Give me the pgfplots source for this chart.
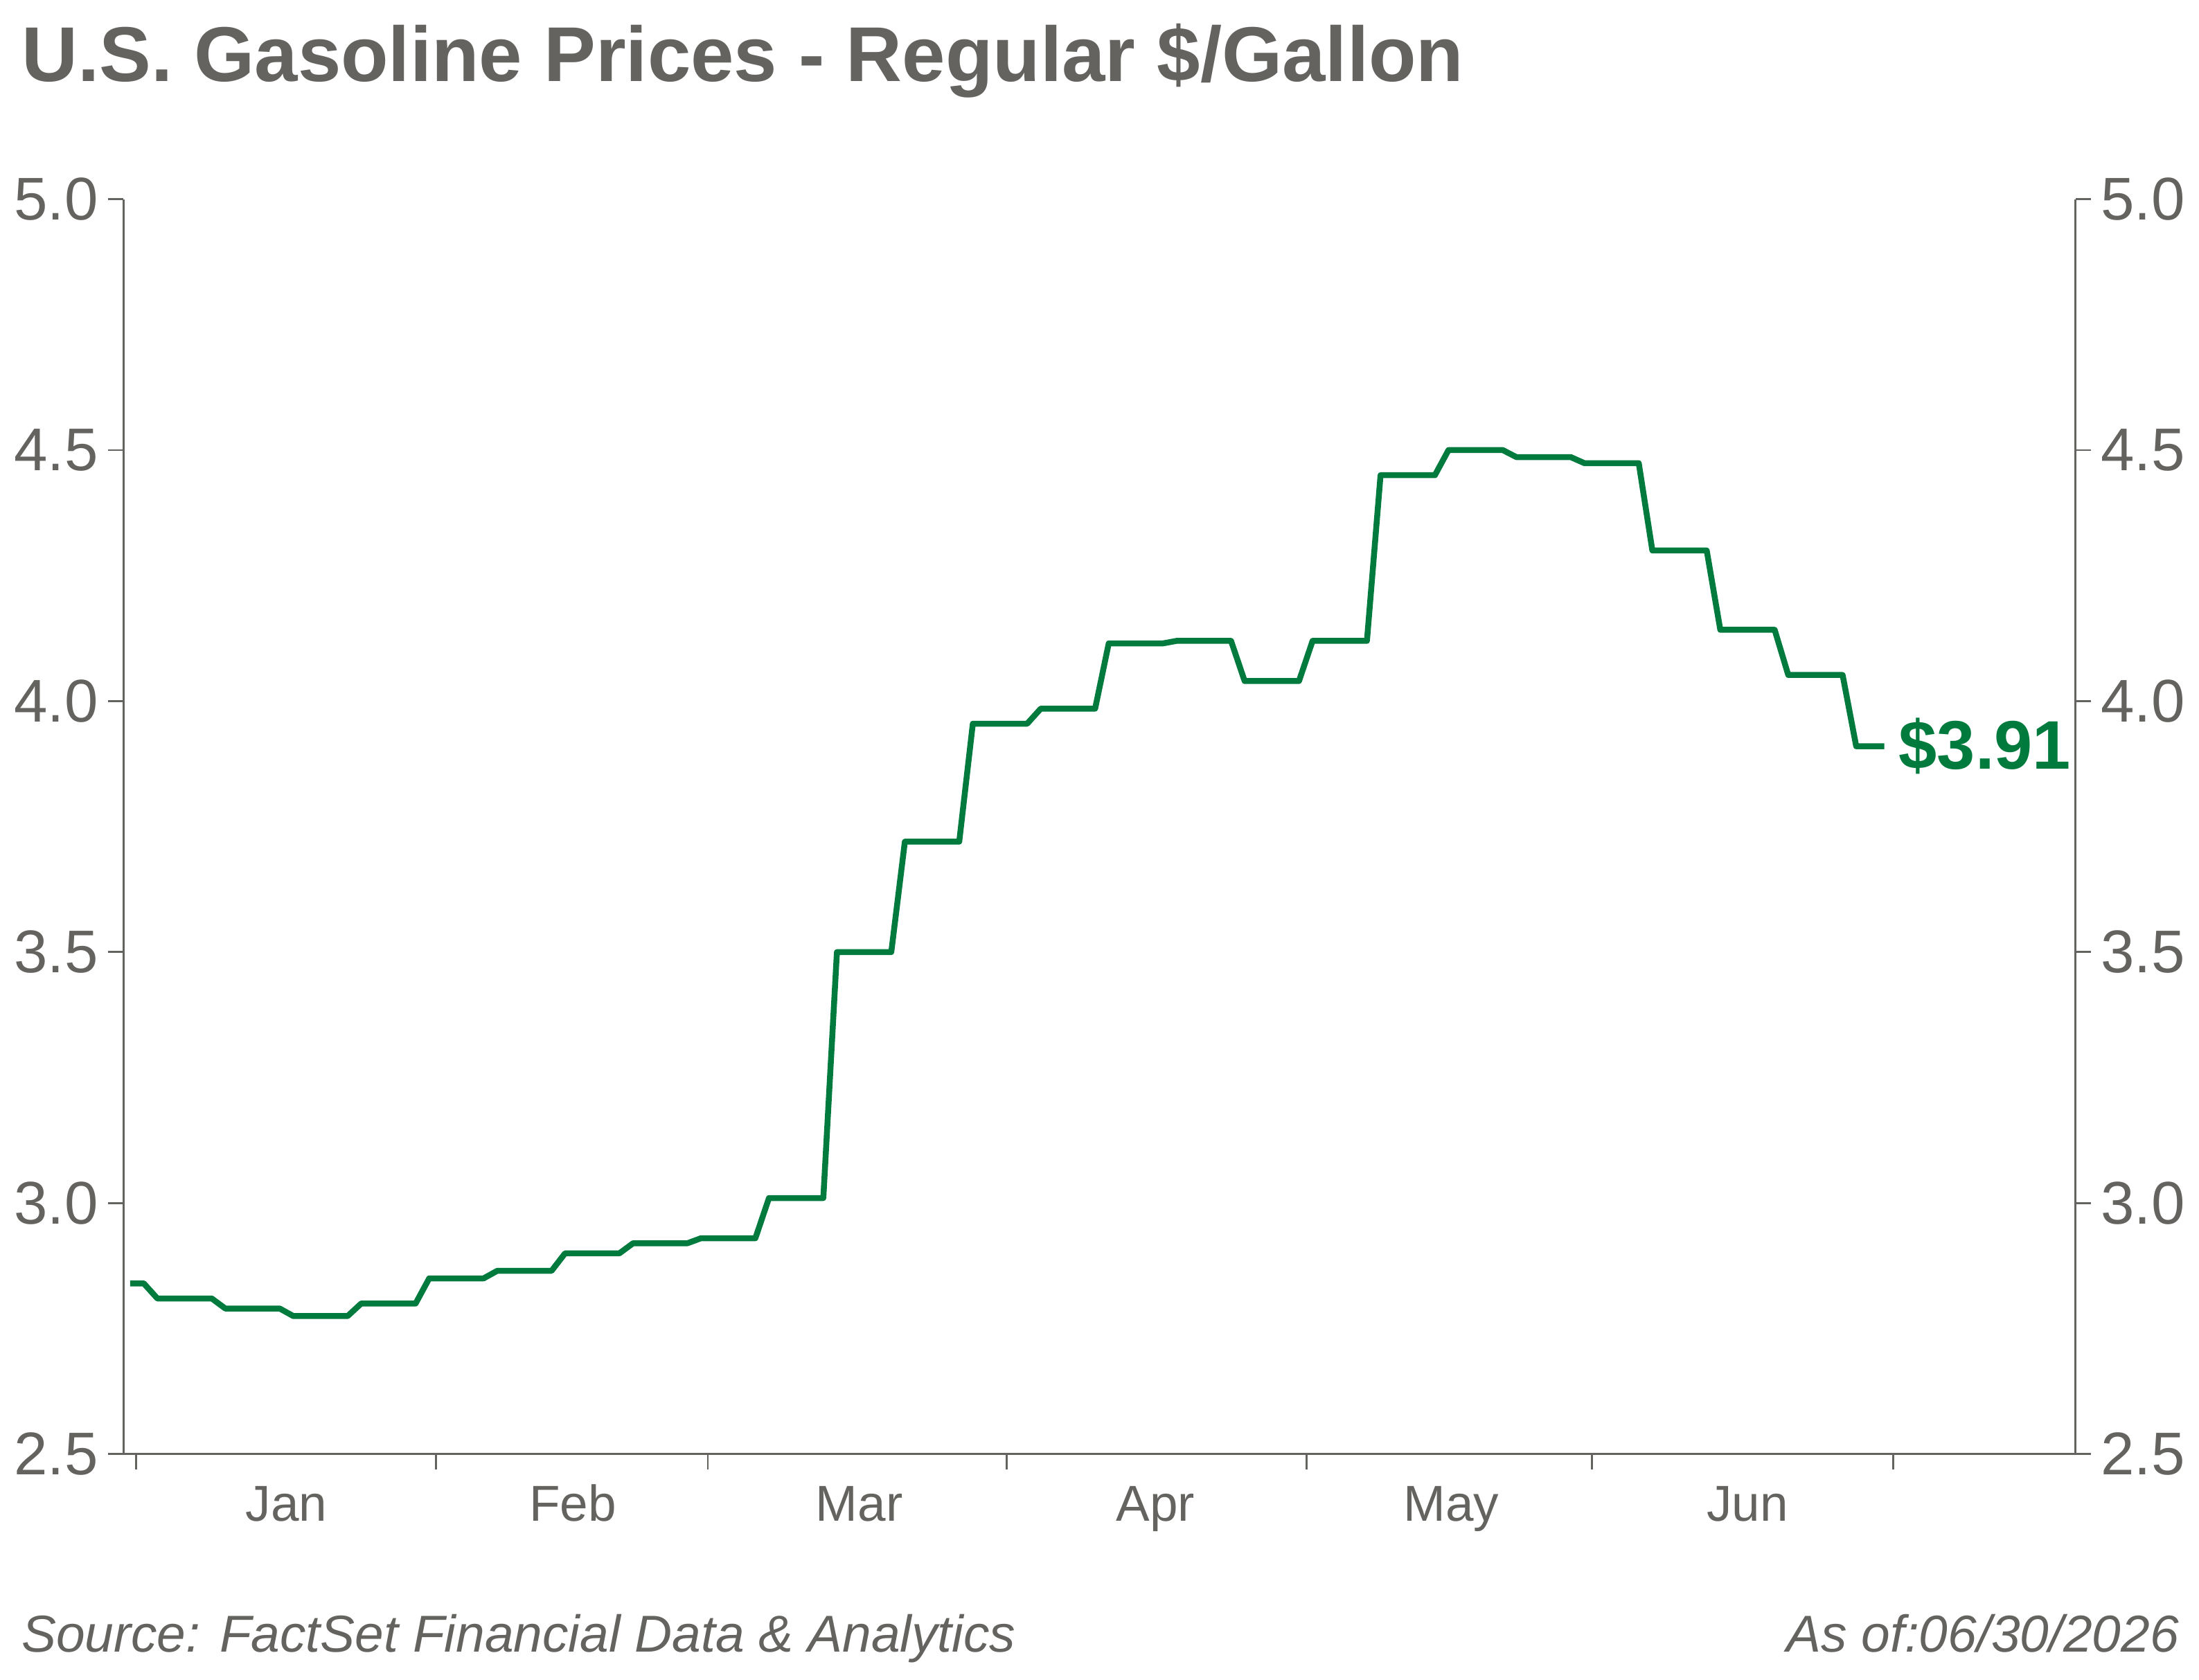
\documentclass[border=0pt]{standalone}
\usepackage{pgfplots}
\pgfplotsset{compat=1.18}
\usepackage{fontspec}
\setmainfont{Liberation Sans}
\definecolor{txtgray}{RGB}{101,99,96}
\definecolor{gasgreen}{RGB}{0,122,61}

\pgfplotstableread{
d v
-0.6 2.84
0.8 2.84
2.2 2.81
7.8 2.81
9.2 2.79
14.8 2.79
16.2 2.775
21.8 2.775
23.2 2.80
28.8 2.80
30.2 2.85
35.8 2.85
37.2 2.865
42.8 2.865
44.2 2.90
49.8 2.90
51.2 2.92
56.8 2.92
58.2 2.93
63.8 2.93
65.2 3.01
70.8 3.01
72.2 3.50
77.8 3.50
79.2 3.72
84.8 3.72
86.2 3.955
91.8 3.955
93.2 3.985
98.8 3.985
100.2 4.115
105.8 4.115
107.2 4.12
112.8 4.12
114.2 4.04
119.8 4.04
121.2 4.12
126.8 4.12
128.2 4.45
133.8 4.45
135.2 4.50
140.8 4.50
142.2 4.486
147.8 4.486
149.2 4.474
154.8 4.474
156.2 4.30
161.8 4.30
163.2 4.142
168.8 4.142
170.2 4.052
175.8 4.052
177.2 3.91
180.1 3.91
}\gasdata

\pgfplotsset{
  mystyle/.style={
    at={(0pt,0pt)}, anchor=south west,
    scale only axis, width=696pt, height=447.5pt,
    xmin=-1.3, xmax=199.8, ymin=2.5, ymax=5.0,
    ytick={2.5,3.0,3.5,4.0,4.5,5.0},
    tick align=outside, major tick length=5.5pt,
    axis line style={txtgray, line width=0.7pt},
    tick style={txtgray, line width=0.7pt},
    yticklabel style={font=\fontsize{21.5}{24}\selectfont, text=txtgray,
      /pgf/number format/fixed, /pgf/number format/fixed zerofill,
      /pgf/number format/precision=1},
    /pgf/number format/assume math mode=true,
  }
}

\begin{document}
\begin{tikzpicture}
\useasboundingbox (-44pt,-80.5pt) rectangle (740pt,518.5pt);

\begin{axis}[mystyle,
  axis x line*=bottom, axis y line*=left,
  xtick={0,30.9,58.9,89.7,120.6,150,181},
  xticklabels={},
  extra x ticks={15.5,45,74.5,105,135.5,166},
  extra x tick labels={Jan,Feb,Mar,Apr,May,Jun},
  extra x tick style={tick style={draw=none},
    xticklabel style={font=\fontsize{18}{20}\selectfont, text=txtgray,
      anchor=base, inner sep=0pt, yshift=-18.5pt}},
]
\addplot[gasgreen, line width=2.1pt, line join=round] table[x=d, y=v] {\gasdata};
\node[anchor=west, xshift=5pt, inner sep=0pt, text=gasgreen,
  font=\bfseries\fontsize{24.5}{26}\selectfont] at (axis cs:180.1,3.91) {\$3.91};
\end{axis}

\begin{axis}[mystyle,
  axis y line*=right, axis x line=none,
]
\end{axis}

\node[anchor=base west, inner sep=0pt, text=txtgray,
  font=\bfseries\fontsize{27.7}{30}\selectfont] at (-36.5pt,489.5pt)
  {U.S. Gasoline Prices - Regular \$/Gallon};
\node[anchor=base west, inner sep=0pt, text=txtgray,
  font=\itshape\fontsize{18.5}{20}\selectfont] at (-36.5pt,-70.5pt)
  {Source: FactSet Financial Data \& Analytics};
\node[anchor=base east, inner sep=0pt, text=txtgray,
  font=\itshape\fontsize{18.5}{20}\selectfont] at (733pt,-70.5pt)
  {As of:06/30/2026};
\end{tikzpicture}
\end{document}
